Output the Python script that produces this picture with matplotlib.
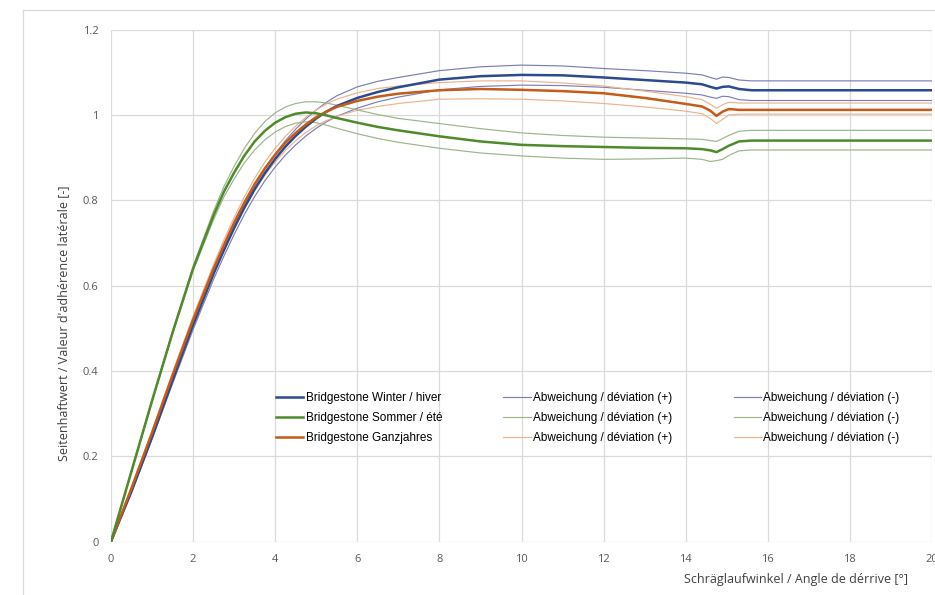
import numpy as np
import matplotlib
matplotlib.use("Agg")
from matplotlib import pyplot as plt
from matplotlib.lines import Line2D

# Schräglaufwinkel (x-Stützstellen)
winkel = [0, 0.5, 1, 1.5, 2, 2.5, 2.75, 3, 3.25, 3.5, 3.75, 4, 4.25, 4.5, 4.75, 5, 5.25, 5.5,
          6, 6.5, 7, 8, 9, 10, 11, 12, 13, 14, 14.4, 14.6, 14.75, 14.9, 15.05, 15.3, 15.6, 20]

# Bridgestone Winter / hiver
winter = [0, 0.118, 0.245, 0.378, 0.508, 0.628, 0.683, 0.735, 0.783, 0.826, 0.864, 0.897, 0.926,
          0.951, 0.973, 0.992, 1.008, 1.021, 1.040, 1.054, 1.065,
          1.083, 1.091, 1.094, 1.093, 1.088, 1.082, 1.076, 1.072, 1.066, 1.062, 1.066, 1.067,
          1.061, 1.058, 1.058]
winter_plus = [0, 0.117, 0.243, 0.376, 0.507, 0.629, 0.686, 0.739, 0.789, 0.834, 0.874, 0.909,
               0.94, 0.967, 0.991, 1.012, 1.03, 1.045, 1.066, 1.079, 1.088,
               1.104, 1.113, 1.117, 1.115, 1.109, 1.104, 1.098, 1.094, 1.088, 1.084,
               1.089, 1.088, 1.082, 1.080, 1.080]
winter_minus = [0, 0.115, 0.24, 0.37, 0.497, 0.615, 0.669, 0.72, 0.767, 0.809, 0.846, 0.878,
                0.906, 0.93, 0.951, 0.969, 0.984, 0.997, 1.016, 1.031, 1.042,
                1.059, 1.067, 1.070, 1.069, 1.065, 1.058, 1.051, 1.047, 1.042, 1.039,
                1.044, 1.043, 1.036, 1.034, 1.034]

# Bridgestone Sommer / été
sommer = [0, 0.165, 0.33, 0.49, 0.64, 0.765, 0.82, 0.865, 0.905, 0.938, 0.963, 0.982, 0.995,
          1.003, 1.006, 1.004, 0.999, 0.993, 0.982, 0.972, 0.964,
          0.950, 0.938, 0.930, 0.927, 0.925, 0.923, 0.922, 0.920, 0.917, 0.913, 0.920,
          0.928, 0.938, 0.940, 0.940]
sommer_plus = [0, 0.168, 0.333, 0.493, 0.645, 0.775, 0.832, 0.88, 0.922, 0.957, 0.985, 1.005,
               1.019, 1.027, 1.031, 1.031, 1.028, 1.023, 1.012, 1.001, 0.992,
               0.980, 0.968, 0.958, 0.952, 0.948, 0.946, 0.944, 0.943, 0.940, 0.938,
               0.945, 0.952, 0.962, 0.964, 0.964]
sommer_minus = [0, 0.162, 0.327, 0.487, 0.635, 0.755, 0.808, 0.85, 0.888, 0.918, 0.942, 0.96,
                0.973, 0.981, 0.984, 0.982, 0.976, 0.969, 0.956, 0.945, 0.936,
                0.922, 0.911, 0.904, 0.899, 0.896, 0.897, 0.899, 0.896, 0.891, 0.893,
                0.896, 0.905, 0.916, 0.918, 0.918]

# Bridgestone Ganzjahres
ganzjahr = [0, 0.125, 0.255, 0.39, 0.52, 0.64, 0.695, 0.748, 0.795, 0.838, 0.875, 0.907, 0.935,
            0.958, 0.978, 0.995, 1.008, 1.019, 1.033, 1.043, 1.05,
            1.058, 1.061, 1.059, 1.056, 1.051, 1.04, 1.026, 1.02, 1.01, 0.998, 1.008,
            1.014, 1.012, 1.012, 1.012]
ganzjahr_plus = [0, 0.128, 0.26, 0.396, 0.528, 0.65, 0.707, 0.76, 0.808, 0.852, 0.89, 0.922,
                 0.95, 0.974, 0.995, 1.012, 1.026, 1.037, 1.052, 1.062, 1.068,
                 1.076, 1.080, 1.080, 1.075, 1.068, 1.056, 1.043, 1.036, 1.025, 1.016,
                 1.024, 1.030, 1.028, 1.028, 1.028]
ganzjahr_minus = [0, 0.122, 0.25, 0.384, 0.512, 0.63, 0.684, 0.735, 0.781, 0.823, 0.859, 0.89,
                  0.917, 0.94, 0.959, 0.975, 0.987, 0.997, 1.011, 1.02, 1.027,
                  1.037, 1.038, 1.037, 1.033, 1.027, 1.019, 1.009, 1.003, 0.992, 0.980,
                  0.990, 1.000, 1.002, 1.002, 1.002]

# Farben
blau, blau_hell = "#2c4a8e", "#7a7fb8"
gruen, gruen_hell = "#4f8a2b", "#9cb58a"
orange, orange_hell = "#c65a17", "#ebb48c"

fig = plt.figure(figsize=(9.35, 5.95), dpi=100)
ax = fig.add_axes([111/935, 53.5/595, 821/935, 511.8/595])

# Rahmen des Diagrammbereichs
fig.add_artist(Line2D([23/935, 23/935], [0, 1 - 10/595], color="#d9d9d9", lw=0.9))
fig.add_artist(Line2D([23/935, 1], [1 - 10/595, 1 - 10/595], color="#d9d9d9", lw=0.9))

dick, duenn = 1.8, 0.85
ax.plot(winkel, winter_plus, color=blau_hell, lw=duenn)
ax.plot(winkel, winter_minus, color=blau_hell, lw=duenn)
ax.plot(winkel, ganzjahr_plus, color=orange_hell, lw=duenn)
ax.plot(winkel, ganzjahr_minus, color=orange_hell, lw=duenn)
ax.plot(winkel, sommer_plus, color=gruen_hell, lw=duenn)
ax.plot(winkel, sommer_minus, color=gruen_hell, lw=duenn)
ax.plot(winkel, winter, color=blau, lw=dick)
ax.plot(winkel, ganzjahr, color=orange, lw=dick)
ax.plot(winkel, sommer, color=gruen, lw=dick)

ax.set_xlim(0, 20)
ax.set_ylim(0, 1.2)
ax.set_xticks(np.arange(0, 21, 2))
ax.set_yticks([0, 0.2, 0.4, 0.6, 0.8, 1.0, 1.2])
ax.set_yticklabels(["0", "0.2", "0.4", "0.6", "0.8", "1", "1.2"])
ax.grid(True, color="#dadada", lw=0.9)
ax.set_axisbelow(True)
for s in ax.spines.values():
    s.set_visible(False)
ax.tick_params(length=0, labelsize=8, labelcolor="#595959", pad=9)
for lab in ax.get_xticklabels() + ax.get_yticklabels():
    lab.set_fontfamily("Open Sans")

ax.set_ylabel("Seitenhaftwert / Valeur d'adhérence latérale [-]", fontsize=9,
              family="Open Sans", color="#404040")
ax.yaxis.set_label_coords(-0.0495, 0.427)
fig.text(908/935, 15/595, "Schräglaufwinkel / Angle de dérrive [°]", fontsize=9,
         family="Open Sans", color="#404040", ha="right", va="center")

# Legende (spaltenweise)
h = [Line2D([], [], color=blau, lw=dick), Line2D([], [], color=gruen, lw=dick),
     Line2D([], [], color=orange, lw=dick),
     Line2D([], [], color=blau_hell, lw=duenn), Line2D([], [], color=gruen_hell, lw=duenn),
     Line2D([], [], color=orange_hell, lw=duenn),
     Line2D([], [], color=blau_hell, lw=duenn), Line2D([], [], color=gruen_hell, lw=duenn),
     Line2D([], [], color=orange_hell, lw=duenn)]
labels = ["Bridgestone Winter / hiver", "Bridgestone Sommer / été", "Bridgestone Ganzjahres",
          "Abweichung / déviation (+)", "Abweichung / déviation (+)", "Abweichung / déviation (+)",
          "Abweichung / déviation (-)", "Abweichung / déviation (-)", "Abweichung / déviation (-)"]
ax.legend(h, labels, ncol=3, loc="upper left", bbox_to_anchor=(0.201, 0.292),
          frameon=False, borderpad=0, borderaxespad=0, handlelength=2.3,
          handletextpad=0.2, columnspacing=5.2, labelspacing=0.67,
          prop={"family": "Liberation Sans", "size": 8.5})

fig.savefig("out.png", dpi=100)
